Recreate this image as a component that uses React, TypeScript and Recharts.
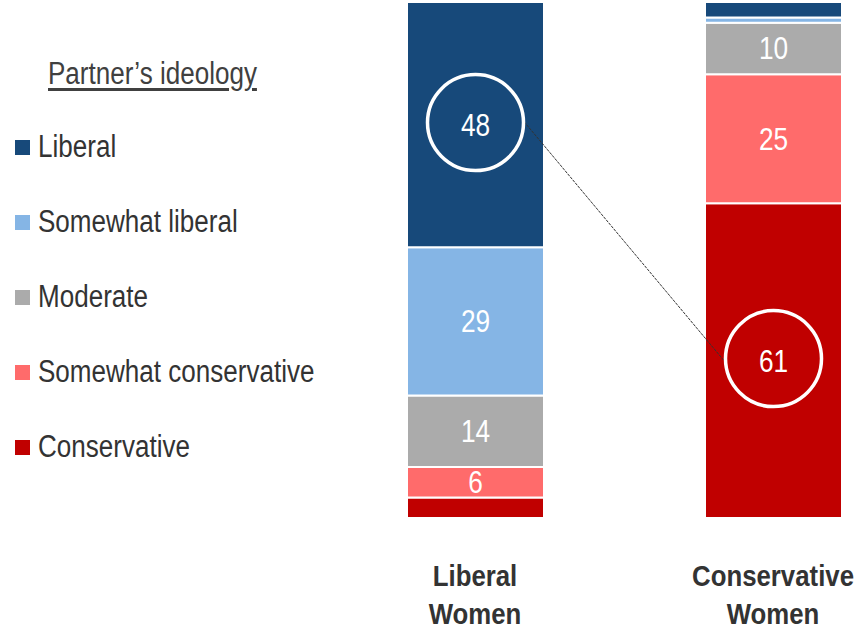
import { Bar, BarChart, LabelList, ReferenceLine, XAxis, YAxis } from "recharts";

// no narrow font installed, so Liberation Sans is squeezed horizontally
const FONT = "'Liberation Sans', Arial, sans-serif";

// chart values
const categories = ["Liberal Women", "Conservative Women"];
const liberal = [48, 3];
const somewhatLiberal = [29, 1];
const moderate = [14, 10];
const somewhatConservative = [6, 25];
const conservative = [4, 61];

// legend order (top to bottom)
const seriesNames = ["Liberal", "Somewhat liberal", "Moderate", "Somewhat conservative", "Conservative"];
const seriesKeys = ["liberal", "somewhatLiberal", "moderate", "somewhatConservative", "conservative"];
const seriesValues = [liberal, somewhatLiberal, moderate, somewhatConservative, conservative];
const seriesColors = ["#17497a", "#85b5e5", "#ababab", "#ff6b6b", "#c00000"];

// segment circled in each bar
const circled = ["liberal", "conservative"];

const chartData = categories.map((name, i) => {
  const row: Record<string, string | number> = { name };
  seriesKeys.forEach((k, s) => {
    row[k] = seriesValues[s][i];
  });
  return row;
});

const totals = categories.map((_, i) => seriesValues.reduce((acc, v) => acc + v[i], 0));
// middle of the circled segments, in the 0..1 expanded scale
const liberalMid = 1 - liberal[0] / totals[0] / 2;
const conservativeMid = conservative[1] / totals[1] / 2;

const R = 48;

const makeLabel = (key: string) => (props: any) => {
  const { x, y, width, height, value, index } = props;
  if (value < 5) return null;
  const cx = x + width / 2;
  const cy = y + height / 2;
  const isCircled = circled[index] === key;
  return (
    <g>
      {isCircled && <circle cx={cx} cy={cy - 2} r={R} fill="none" stroke="#fff" strokeWidth={3.5} />}
      <text
        transform={`translate(${cx} ${cy}) scale(0.82 1)`}
        x={0}
        y={0}
        textAnchor="middle"
        dominantBaseline="central"
        fill="#fff"
        fontFamily={FONT}
        fontSize={32}
      >
        {value}
      </text>
    </g>
  );
};

const CategoryTick = (props: any) => {
  const { x, y, payload } = props;
  const words = String(payload.value).split(" ");
  return (
    <g transform={`translate(${x} ${y}) scale(0.86 1)`}>
      <text x={0} y={0} textAnchor="middle" fill="#333" fontFamily={FONT} fontWeight="bold" fontSize={30}>
        {words.map((w, i) => (
          <tspan key={w} x={0} y={66 + i * 38}>
            {w}
          </tspan>
        ))}
      </text>
    </g>
  );
};

const ConnectorLine = (props: any) => {
  const { x1, y1, x2, y2 } = props;
  return (
    <line
      x1={x1 + R + 1}
      y1={y1 - 3}
      x2={x2 - R - 1}
      y2={y2}
      stroke="#333"
      strokeWidth={1}
      strokeDasharray="3 1"
    />
  );
};

const LegendBox = () => (
  <div style={{ position: "absolute", left: 0, top: 0, width: 326, fontFamily: FONT, color: "#333" }}>
    <div
      style={{
        position: "absolute",
        left: 48,
        top: 56,
        fontSize: 31,
        lineHeight: "36px",
        textDecoration: "underline",
        textUnderlineOffset: 4,
        color: "#404040",
        whiteSpace: "nowrap",
        transform: "scaleX(0.84)",
        transformOrigin: "left center",
      }}
    >
      Partner’s ideology
    </div>
    {seriesNames.map((name, i) => (
      <div
        key={name}
        style={{ position: "absolute", left: 15, top: 129 + i * 75, height: 36, display: "flex", alignItems: "center", whiteSpace: "nowrap" }}
      >
        <span style={{ display: "inline-block", width: 15, height: 15, background: seriesColors[i], marginRight: 8 }} />
        <span
          style={{
            display: "inline-block",
            fontSize: 31,
            lineHeight: "36px",
            transform: "scaleX(0.84)",
            transformOrigin: "left center",
          }}
        >
          {name}
        </span>
      </div>
    ))}
  </div>
);

const App = () => {
  return (
    <div style={{ position: "absolute", left: 0, top: 0, width: 860, height: 631, overflow: "hidden", background: "#fff" }}>
      <BarChart
        width={922}
        height={631}
        data={chartData}
        stackOffset="expand"
        barSize={137}
        margin={{ top: 2, right: 0, bottom: 0, left: 326 }}
      >
        <XAxis
          dataKey="name"
          height={113}
          axisLine={false}
          tickLine={false}
          tickSize={0}
          tick={<CategoryTick />}
          interval={0}
        />
        <YAxis hide domain={[0, 1]} />
        {[...seriesKeys].reverse().map((key) => {
          const i = seriesKeys.indexOf(key);
          return (
            <Bar
              key={key}
              dataKey={key}
              name={seriesNames[i]}
              stackId="a"
              fill={seriesColors[i]}
              stroke="#fff"
              strokeWidth={2}
              isAnimationActive={false}
            >
              <LabelList dataKey={key} content={makeLabel(key)} />
            </Bar>
          );
        })}
        <ReferenceLine
          segment={[
            { x: categories[0], y: liberalMid },
            { x: categories[1], y: conservativeMid },
          ]}
          shape={ConnectorLine}
        />
      </BarChart>
      <LegendBox />
    </div>
  );
};

export default App;
